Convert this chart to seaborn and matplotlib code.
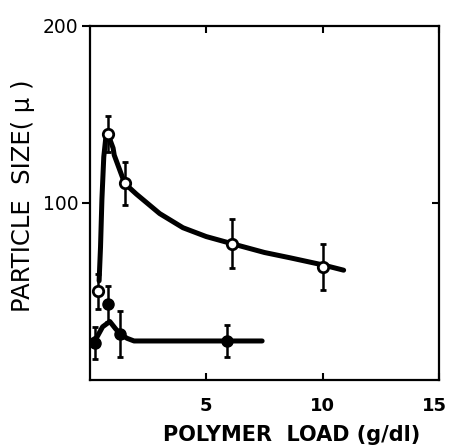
import matplotlib
matplotlib.use("Agg")
import matplotlib.pyplot as plt
import matplotlib.transforms as mtransforms
import seaborn as sns
import pandas as pd

# Measured points: open circles (upper series) and filled circles (lower series)
load_open = [0.34, 0.78, 1.5, 6.1, 10.0]
size_open = [50, 139, 111, 77, 64]
err_open = [10, 10, 12, 14, 13]

load_filled = [0.22, 0.78, 1.3, 5.9]
size_filled = [21, 43, 26, 22]
err_filled = [9, 10, 13, 9]

# Hand-drawn trend curves through the data
curve_open_x = [0.40, 0.46, 0.52, 0.60, 0.68, 0.76, 0.86, 1.0, 1.05, 1.5, 2.0, 3.0, 4.0, 5.0, 6.1, 7.5, 8.6, 10.0, 10.9]
curve_open_y = [56, 75, 102, 126, 136, 138, 136, 131, 127, 111, 105, 94, 86, 81, 77, 72, 69, 65, 62]

curve_filled_x = [0.05, 0.3, 0.55, 0.86, 1.1, 1.3, 1.6, 1.9, 3.0, 5.0, 7.4]
curve_filled_y = [22, 24, 30, 33, 29, 26, 23.5, 22, 22, 22, 22]

x_ticks = [5, 10, 15]
y_ticks = [100, 200]

sns.set_theme(style="white")
plt.rcParams["font.family"] = ["DejaVu Sans"]

fig = plt.figure(figsize=(4.49, 4.48), dpi=100)
ax = fig.add_axes([0.200, 0.152, 0.778, 0.790])

df_open = pd.DataFrame({"x": curve_open_x, "y": curve_open_y})
df_filled = pd.DataFrame({"x": curve_filled_x, "y": curve_filled_y})
sns.lineplot(data=df_open, x="x", y="y", sort=False, color="black", lw=3.6, ax=ax)
sns.lineplot(data=df_filled, x="x", y="y", sort=False, color="black", lw=3.6, ax=ax)

ax.errorbar(load_open, size_open, yerr=err_open, fmt="o", ms=7.5, mfc="white",
            mec="black", mew=2.0, ecolor="black", elinewidth=1.8, capsize=2.5,
            capthick=2.0, zorder=5)
ax.errorbar(load_filled, size_filled, yerr=err_filled, fmt="o", ms=8, mfc="black",
            mec="black", ecolor="black", elinewidth=1.8, capsize=2.5,
            capthick=2.0, zorder=5)

ax.set_xlim(0, 15)
ax.set_ylim(0, 200)
ax.set_xticks(x_ticks)
ax.set_yticks(y_ticks)
ax.set_xticklabels([str(v) for v in x_ticks], fontsize=13, fontweight="bold")
ax.set_yticklabels([str(v) for v in y_ticks], fontsize=13.5)

ax.tick_params(axis="x", direction="in", length=5, width=1.5, top=True,
               bottom=True, pad=12, colors="black")
ax.tick_params(axis="y", direction="out", length=6, width=1.5, left=True,
               right=False, pad=2, colors="black")

# keep the last x label inside the figure edge
last = ax.get_xticklabels()[-1]
last.set_transform(last.get_transform() +
                   mtransforms.ScaledTranslation(-5 / 100, 0, fig.dpi_scale_trans))

# inward tick on the right spine at 100
ax_r = ax.twinx()
ax_r.set_ylim(0, 200)
ax_r.set_yticks([100])
ax_r.set_yticklabels([])
ax_r.tick_params(axis="y", direction="in", length=5, width=1.5, colors="black")
for s in ax_r.spines.values():
    s.set_visible(False)

for s in ax.spines.values():
    s.set_visible(True)
    s.set_color("black")
    s.set_linewidth(1.6)

ax.set_xlabel("POLYMER  LOAD (g/dl)", fontsize=15, fontweight="bold", color="black")
ax.xaxis.set_label_coords(0.578, -0.128)
ax.set_ylabel("PARTICLE  SIZE( μ )", fontsize=17.5, color="black")
ax.yaxis.set_label_coords(-0.158, 0.52)

fig.savefig("out.png", dpi=100, facecolor="white")
